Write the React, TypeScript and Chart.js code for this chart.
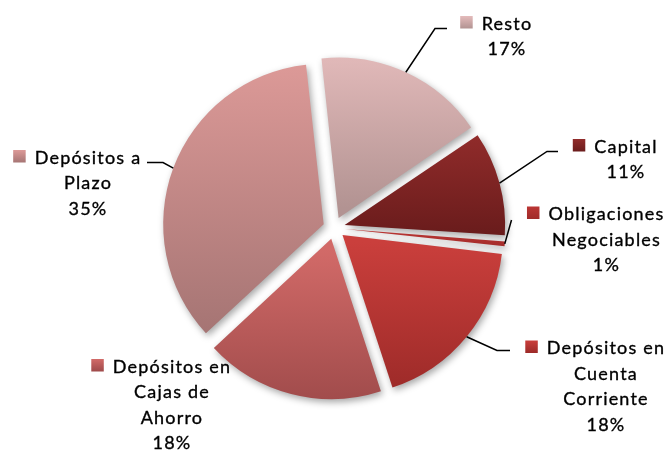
import React, { useEffect, useRef } from 'react';
import { Chart, registerables } from 'chart.js';

Chart.register(...registerables);

// ---- data ----
const categories = [
  'Resto',
  'Capital',
  'Obligaciones Negociables',
  'Depósitos en Cuenta Corriente',
  'Depósitos en Cajas de Ahorro',
  'Depósitos a Plazo',
];
const labelLines = [
  ['Resto'],
  ['Capital'],
  ['Obligaciones', 'Negociables'],
  ['Depósitos en', 'Cuenta', 'Corriente'],
  ['Depósitos en', 'Cajas de', 'Ahorro'],
  ['Depósitos a', 'Plazo'],
];
const values = [17.2, 10.6, 0.8, 18.1, 18.1, 35.2];

// ---- styles ----
const topColors = ['#E4BBBB', '#922C2B', '#BB3634', '#CA3F3C', '#D26A68', '#DD9A98'];
const bottomColors = ['#B29392', '#6A1C1C', '#A02B29', '#9C2A28', '#9E4A4A', '#A67574'];

const ROTATION = -6.2;
const RADIUS = 160.5;
const OFFSET = 44; // Chart.js translates arcs by offset / 4
const SHIFT = OFFSET / 4;
const FONT = '18px Lato';
const LINE_H = 25.5;
const KEY = 12.5;

// label placement (text centre x, first baseline y, optional leader elbow & end)
const labelLayout: { cx: number; y: number; leader: number[][] | null }[] = [
  { cx: 507, y: 29.5, leader: [[435, 28.5], [447, 28.5]] },
  { cx: 626, y: 152.5, leader: [[547, 151.5], [558, 151.5]] },
  { cx: 606.5, y: 220, leader: [[511.5, 220], [511.5, 220]] },
  { cx: 606, y: 354, leader: [[497, 350.5], [510, 350.5]] },
  { cx: 172, y: 372.5, leader: null },
  { cx: 88, y: 163.5, leader: [[163, 162.5], [147, 162.5]] },
];

const total = values.reduce((a, b) => a + b, 0);

function sliceYRange(chart: any, i: number) {
  const area = chart.chartArea;
  const cy = (area.top + area.bottom) / 2;
  let a0 = -Math.PI / 2 + (ROTATION * Math.PI) / 180;
  for (let k = 0; k < i; k++) a0 += (values[k] / total) * 2 * Math.PI;
  const a1 = a0 + (values[i] / total) * 2 * Math.PI;
  const mid = (a0 + a1) / 2;
  const oy = cy + Math.sin(mid) * SHIFT;
  const ys = [oy, oy + Math.sin(a0) * RADIUS, oy + Math.sin(a1) * RADIUS];
  for (const t of [-Math.PI / 2, Math.PI / 2, (3 * Math.PI) / 2]) {
    if (t > a0 && t < a1) ys.push(oy + Math.sin(t) * RADIUS);
  }
  return { top: Math.min(...ys), bottom: Math.max(...ys) };
}

function sliceFill(context: any) {
  const i = context.dataIndex;
  const chart = context.chart;
  if (i === undefined || !chart.chartArea) return topColors[i ?? 0];
  const { top, bottom } = sliceYRange(chart, i);
  const g = chart.ctx.createLinearGradient(0, top, 0, bottom);
  g.addColorStop(0, topColors[i]);
  g.addColorStop(1, bottomColors[i]);
  return g;
}

const radiusFixPlugin = {
  id: 'radiusFix',
  afterDatasetUpdate(chart: any) {
    const meta = chart.getDatasetMeta(0);
    meta.data.forEach((arc: any) => {
      const fix = 1 - Math.sin(Math.min(Math.PI, arc.circumference || 0));
      arc.outerRadius = RADIUS - SHIFT * fix;
    });
  },
};

const shadowPlugin = {
  id: 'sliceShadow',
  beforeDatasetsDraw(chart: any) {
    const ctx = chart.ctx;
    ctx.save();
    ctx.shadowColor = 'rgba(0,0,0,0.35)';
    ctx.shadowBlur = 7;
    ctx.shadowOffsetX = 2;
    ctx.shadowOffsetY = 3;
  },
  afterDatasetsDraw(chart: any) {
    chart.ctx.restore();
  },
};

const labelPlugin = {
  id: 'pieLabels',
  afterDraw(chart: any) {
    const ctx = chart.ctx;
    const meta = chart.getDatasetMeta(0);
    ctx.save();
    ctx.font = FONT;
    (ctx as any).letterSpacing = '1.2px';
    ctx.textAlign = 'center';
    ctx.textBaseline = 'alphabetic';
    meta.data.forEach((arc: any, i: number) => {
      const L = labelLayout[i];
      const pct = Math.round((values[i] / total) * 100) + '%';
      const lines = [...labelLines[i], pct];
      ctx.fillStyle = '#000';
      ctx.strokeStyle = '#000';
      ctx.lineWidth = 0.35;
      lines.forEach((ln, j) => {
        ctx.fillText(ln, L.cx, L.y + j * LINE_H);
        ctx.strokeText(ln, L.cx, L.y + j * LINE_H);
      });
      // legend key
      const w0 = ctx.measureText(lines[0]).width;
      const kx = L.cx - w0 / 2 - 9 - KEY;
      const ky = L.y - KEY - 1;
      const kg = ctx.createLinearGradient(0, ky, 0, ky + KEY);
      kg.addColorStop(0, topColors[i]);
      kg.addColorStop(1, bottomColors[i]);
      ctx.fillStyle = kg;
      ctx.fillRect(kx, ky, KEY, KEY);
      // leader line
      if (L.leader) {
        const mid = (arc.startAngle + arc.endAngle) / 2;
        const fix = 1 - Math.sin(Math.min(Math.PI, arc.circumference || 0));
        const r = arc.outerRadius + SHIFT * fix + SHIFT;
        const sx = arc.x + Math.cos(mid) * r;
        const sy = arc.y + Math.sin(mid) * r;
        ctx.beginPath();
        ctx.moveTo(sx, sy);
        L.leader.forEach((p) => ctx.lineTo(p[0], p[1]));
        ctx.strokeStyle = '#000';
        ctx.lineWidth = 1.5;
        ctx.stroke();
      }
    });
    ctx.restore();
  },
};

export default function App() {
  const ref = useRef<HTMLCanvasElement | null>(null);
  useEffect(() => {
    if (!ref.current) return;
    const chart = new Chart(ref.current, {
      type: 'pie',
      data: {
        labels: categories,
        datasets: [
          {
            data: values,
            backgroundColor: sliceFill,
            borderWidth: 0,
            offset: OFFSET,
            hoverOffset: 0,
          } as any,
        ],
      },
      options: {
        animation: false,
        responsive: true,
        maintainAspectRatio: false,
        rotation: ROTATION,
        radius: RADIUS,
        layout: { padding: { left: 0, right: 0, top: 4, bottom: 0 } },
        plugins: {
          legend: { display: false },
          tooltip: { enabled: false },
        },
        events: [],
      } as any,
      plugins: [radiusFixPlugin, shadowPlugin, labelPlugin],
    });
    return () => chart.destroy();
  }, []);
  return (
    <div style={{ position: 'fixed', left: 0, top: 0, width: 668, height: 452, background: '#fff' }}>
      <canvas ref={ref} />
    </div>
  );
}
